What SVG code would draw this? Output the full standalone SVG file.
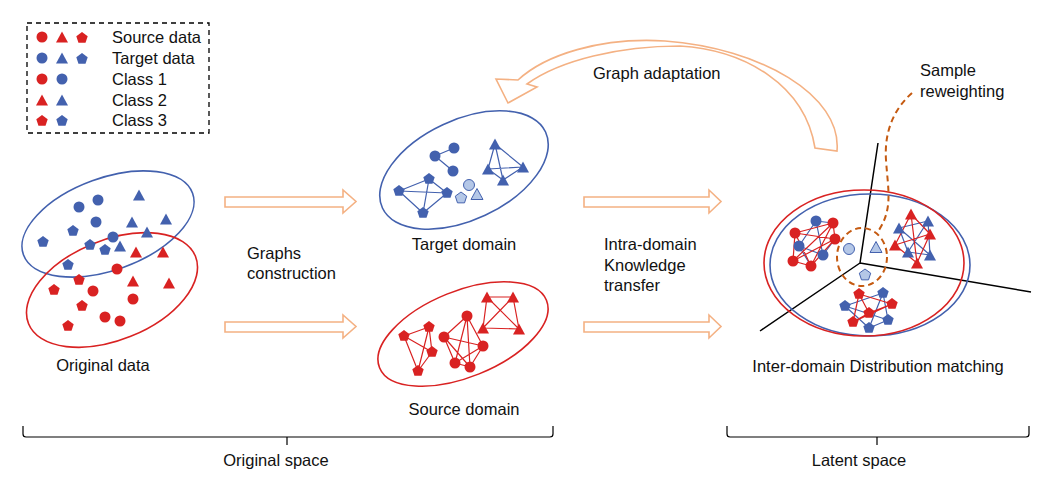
<svg xmlns="http://www.w3.org/2000/svg" xmlns:xlink="http://www.w3.org/1999/xlink" width="1048" height="485" viewBox="0 0 1048 485">
<style>
text{font-family:"Liberation Sans",Arial,sans-serif;font-size:16.5px;fill:#111}
.r{fill:#D92222}
.b{fill:#4361AE}
.lb{fill:#B4C7E7;stroke:#4361AE;stroke-width:1}
.er{fill:none;stroke:#D92222;stroke-width:1.6}
.eb{fill:none;stroke:#4361AE;stroke-width:1.6}
.gr{fill:none;stroke:#D92222;stroke-width:1.2}
.gb{fill:none;stroke:#4361AE;stroke-width:1.2}
.blk{fill:#fff;stroke:#F4B183;stroke-width:1.6}
.ax{stroke:#000;stroke-width:1.5;fill:none}
.br{stroke:#000;stroke-width:1.2;fill:none}
</style>
<defs>
<circle id="c" r="5.5"/>
<polygon id="t" points="0,-6.5 6,4.5 -6,4.5"/>
<polygon id="p" points="0,-6 5.7,-1.85 3.53,4.85 -3.53,4.85 -5.7,-1.85"/>
</defs>
<rect width="1048" height="485" fill="#fff"/>

<g id="legend">
<rect x="27" y="23" width="182" height="110" fill="none" stroke="#000" stroke-width="1.3" stroke-dasharray="5,4"/>
<use href="#c" class="r" x="42" y="37"/><use href="#t" class="r" x="62" y="38"/><use href="#p" class="r" x="82" y="38"/>
<use href="#c" class="b" x="42" y="58"/><use href="#t" class="b" x="62" y="59"/><use href="#p" class="b" x="82" y="59"/>
<use href="#c" class="r" x="42" y="79"/><use href="#c" class="b" x="62" y="79"/>
<use href="#t" class="r" x="42" y="101"/><use href="#t" class="b" x="62" y="101"/>
<use href="#p" class="r" x="42" y="121"/><use href="#p" class="b" x="62" y="121"/>
<text x="112" y="43">Source data</text>
<text x="112" y="64">Target data</text>
<text x="112" y="85">Class 1</text>
<text x="112" y="106">Class 2</text>
<text x="112" y="126">Class 3</text>
</g>

<g id="original-data">
<ellipse class="eb" cx="108" cy="224" rx="90" ry="46" transform="rotate(-20 108 224)"/>
<ellipse class="er" cx="112" cy="290" rx="90" ry="50" transform="rotate(-22 112 290)"/>
<use href="#c" class="b" x="79" y="207"/><use href="#c" class="b" x="98" y="200"/><use href="#c" class="b" x="96" y="222"/><use href="#c" class="b" x="113" y="237"/>
<use href="#t" class="b" x="139" y="196"/><use href="#t" class="b" x="132" y="223"/><use href="#t" class="b" x="166" y="220"/><use href="#t" class="b" x="147" y="233"/><use href="#t" class="b" x="120" y="247"/>
<use href="#p" class="b" x="43" y="242"/><use href="#p" class="b" x="73" y="231"/><use href="#p" class="b" x="90" y="245"/><use href="#p" class="b" x="105" y="250"/><use href="#p" class="b" x="68" y="265"/>
<use href="#c" class="r" x="117" y="269"/><use href="#c" class="r" x="93" y="291"/><use href="#c" class="r" x="133" y="299"/><use href="#c" class="r" x="105" y="317"/><use href="#c" class="r" x="120" y="321"/>
<use href="#t" class="r" x="136" y="253"/><use href="#t" class="r" x="163" y="253"/><use href="#t" class="r" x="133" y="282"/><use href="#t" class="r" x="169" y="284"/>
<use href="#p" class="r" x="79" y="280"/><use href="#p" class="r" x="54" y="290"/><use href="#p" class="r" x="82" y="306"/><use href="#p" class="r" x="68" y="326"/>
<text x="103" y="371" text-anchor="middle">Original data</text>
</g>

<g id="target-domain">
<ellipse class="eb" cx="464" cy="170" rx="90" ry="50" transform="rotate(-25 464 170)"/>
<path class="gb" d="M435,156L454,148M435,156L453,171
M495,144L488,169M495,144L523,167M495,144L503,180M488,169L523,167M488,169L503,180M523,167L503,180
M399,191L429,179M399,191L447,193M399,191L423,213M429,179L447,193M429,179L423,213M447,193L423,213"/>
<use href="#c" class="b" x="435" y="156"/><use href="#c" class="b" x="454" y="148"/><use href="#c" class="b" x="453" y="171"/>
<use href="#t" class="b" x="495" y="145"/><use href="#t" class="b" x="488" y="170"/><use href="#t" class="b" x="523" y="168"/><use href="#t" class="b" x="503" y="181"/>
<use href="#p" class="b" x="399" y="191"/><use href="#p" class="b" x="429" y="179"/><use href="#p" class="b" x="447" y="193"/><use href="#p" class="b" x="423" y="213"/>
<use href="#c" class="lb" x="469" y="185"/><use href="#p" class="lb" x="461" y="198"/><use href="#t" class="lb" x="477" y="195"/>
<text x="464" y="250" text-anchor="middle">Target domain</text>
</g>

<g id="source-domain">
<ellipse class="er" cx="463" cy="334" rx="90" ry="43" transform="rotate(-22 463 334)"/>
<path class="gr" d="M487,297L513,297M487,297L483,328M487,297L519,329M513,297L483,328M513,297L519,329M483,328L519,329
M467,316L444,337M467,316L483,346M467,316L455,363M467,316L470,367M444,337L483,346M444,337L455,363M444,337L470,367M483,346L455,363M483,346L470,367M455,363L470,367
M404,336L429,327M404,336L432,352M404,336L418,371M429,327L432,352M429,327L418,371M432,352L418,371"/>
<use href="#t" class="r" x="487" y="298"/><use href="#t" class="r" x="513" y="298"/><use href="#t" class="r" x="483" y="329"/><use href="#t" class="r" x="519" y="330"/>
<use href="#c" class="r" x="467" y="316"/><use href="#c" class="r" x="444" y="337"/><use href="#c" class="r" x="483" y="346"/><use href="#c" class="r" x="455" y="363"/><use href="#c" class="r" x="470" y="367"/>
<use href="#p" class="r" x="404" y="336"/><use href="#p" class="r" x="429" y="327"/><use href="#p" class="r" x="432" y="352"/><use href="#p" class="r" x="418" y="371"/>
<text x="464" y="415" text-anchor="middle">Source domain</text>
</g>

<g id="latent-space">
<path class="ax" d="M860,263L878,143M860,263L1031,292M860,263L760,331"/>
<ellipse class="eb" cx="870" cy="265" rx="100" ry="71"/>
<ellipse class="er" cx="864" cy="263" rx="100" ry="73"/>
<ellipse cx="862" cy="257" rx="25" ry="29" fill="none" stroke="#C55A11" stroke-width="2" stroke-dasharray="6,4"/>
<path class="gb" d="M816,221L799,246M816,221L823,255M799,246L823,255M816,221L833,223M799,246L811,266M823,255L835,239
M928,221L899,228M928,221L908,252M928,221L930,255M899,228L908,252M899,228L930,255M908,252L930,255
M883,293L845,306M883,293L888,320M883,293L869,328M845,306L888,320M845,306L869,328M888,320L869,328"/>
<path class="gr" d="M795,233L833,223M795,233L835,239M795,233L793,261M795,233L811,266M833,223L835,239M833,223L793,261M833,223L811,266M835,239L793,261M835,239L811,266M793,261L811,266
M911,214L930,234M911,214L895,245M911,214L917,263M930,234L895,245M930,234L917,263M895,245L917,263
M859,294L892,304M859,294L869,313M859,294L853,322M892,304L869,313M892,304L853,322M869,313L853,322"/>
<use href="#c" class="b" x="816" y="221"/><use href="#c" class="b" x="799" y="246"/><use href="#c" class="b" x="823" y="255"/>
<use href="#c" class="r" x="795" y="233"/><use href="#c" class="r" x="833" y="223"/><use href="#c" class="r" x="835" y="239"/><use href="#c" class="r" x="793" y="261"/><use href="#c" class="r" x="811" y="266"/>
<use href="#t" class="b" x="928" y="222"/><use href="#t" class="b" x="899" y="229"/><use href="#t" class="b" x="908" y="253"/><use href="#t" class="b" x="930" y="256"/>
<use href="#t" class="r" x="911" y="215"/><use href="#t" class="r" x="930" y="235"/><use href="#t" class="r" x="895" y="246"/><use href="#t" class="r" x="917" y="264"/>
<use href="#p" class="b" x="883" y="293"/><use href="#p" class="b" x="845" y="306"/><use href="#p" class="b" x="888" y="320"/><use href="#p" class="b" x="869" y="328"/>
<use href="#p" class="r" x="859" y="294"/><use href="#p" class="r" x="892" y="304"/><use href="#p" class="r" x="869" y="313"/><use href="#p" class="r" x="853" y="322"/>
<use href="#c" class="lb" x="849" y="249"/><use href="#t" class="lb" x="876" y="248"/><use href="#p" class="lb" x="865" y="275"/>
<text x="878" y="372" text-anchor="middle">Inter-domain Distribution matching</text>
<text x="920" y="76">Sample</text>
<text x="920" y="97">reweighting</text>
</g>

<g id="connectors">
<path class="blk" d="M225,197L343,197L343,190L356,201.5L343,213L343,207L225,207Z"/>
<path class="blk" d="M225,322L343,322L343,315L356,326.5L343,338L343,332L225,332Z"/>
<path class="blk" d="M584,197L709,197L709,190L721,201.5L709,213L709,207L584,207Z"/>
<path class="blk" d="M584,322L709,322L709,315L721,326.5L709,338L709,332L584,332Z"/>
<path class="blk" d="M837,151C842,95 760,48 665,41C600,37 545,55 518,80L496,79L508,103L537,87L527,84C560,60 620,46 680,46C745,50 805,85 815,148Z"/>
<path d="M912,93C895,108 884,130 886,160C888,190 893,208 879,230" fill="none" stroke="#C55A11" stroke-width="2" stroke-dasharray="6,4"/>
<text x="593" y="79">Graph adaptation</text>
<text x="247" y="259">Graphs</text>
<text x="247" y="279">construction</text>
<text x="604" y="250">Intra-domain</text>
<text x="604" y="271">Knowledge</text>
<text x="604" y="291">transfer</text>
</g>

<g id="braces">
<path class="br" d="M23,426L23,434Q23,437 26,437L550,437Q553,437 553,434L553,426M287,437L287,445"/>
<path class="br" d="M727,426L727,434Q727,437 730,437L1026,437Q1029,437 1029,434L1029,426M877,437L877,445"/>
<text x="276" y="466" text-anchor="middle">Original space</text>
<text x="859" y="466" text-anchor="middle">Latent space</text>
</g>
</svg>
